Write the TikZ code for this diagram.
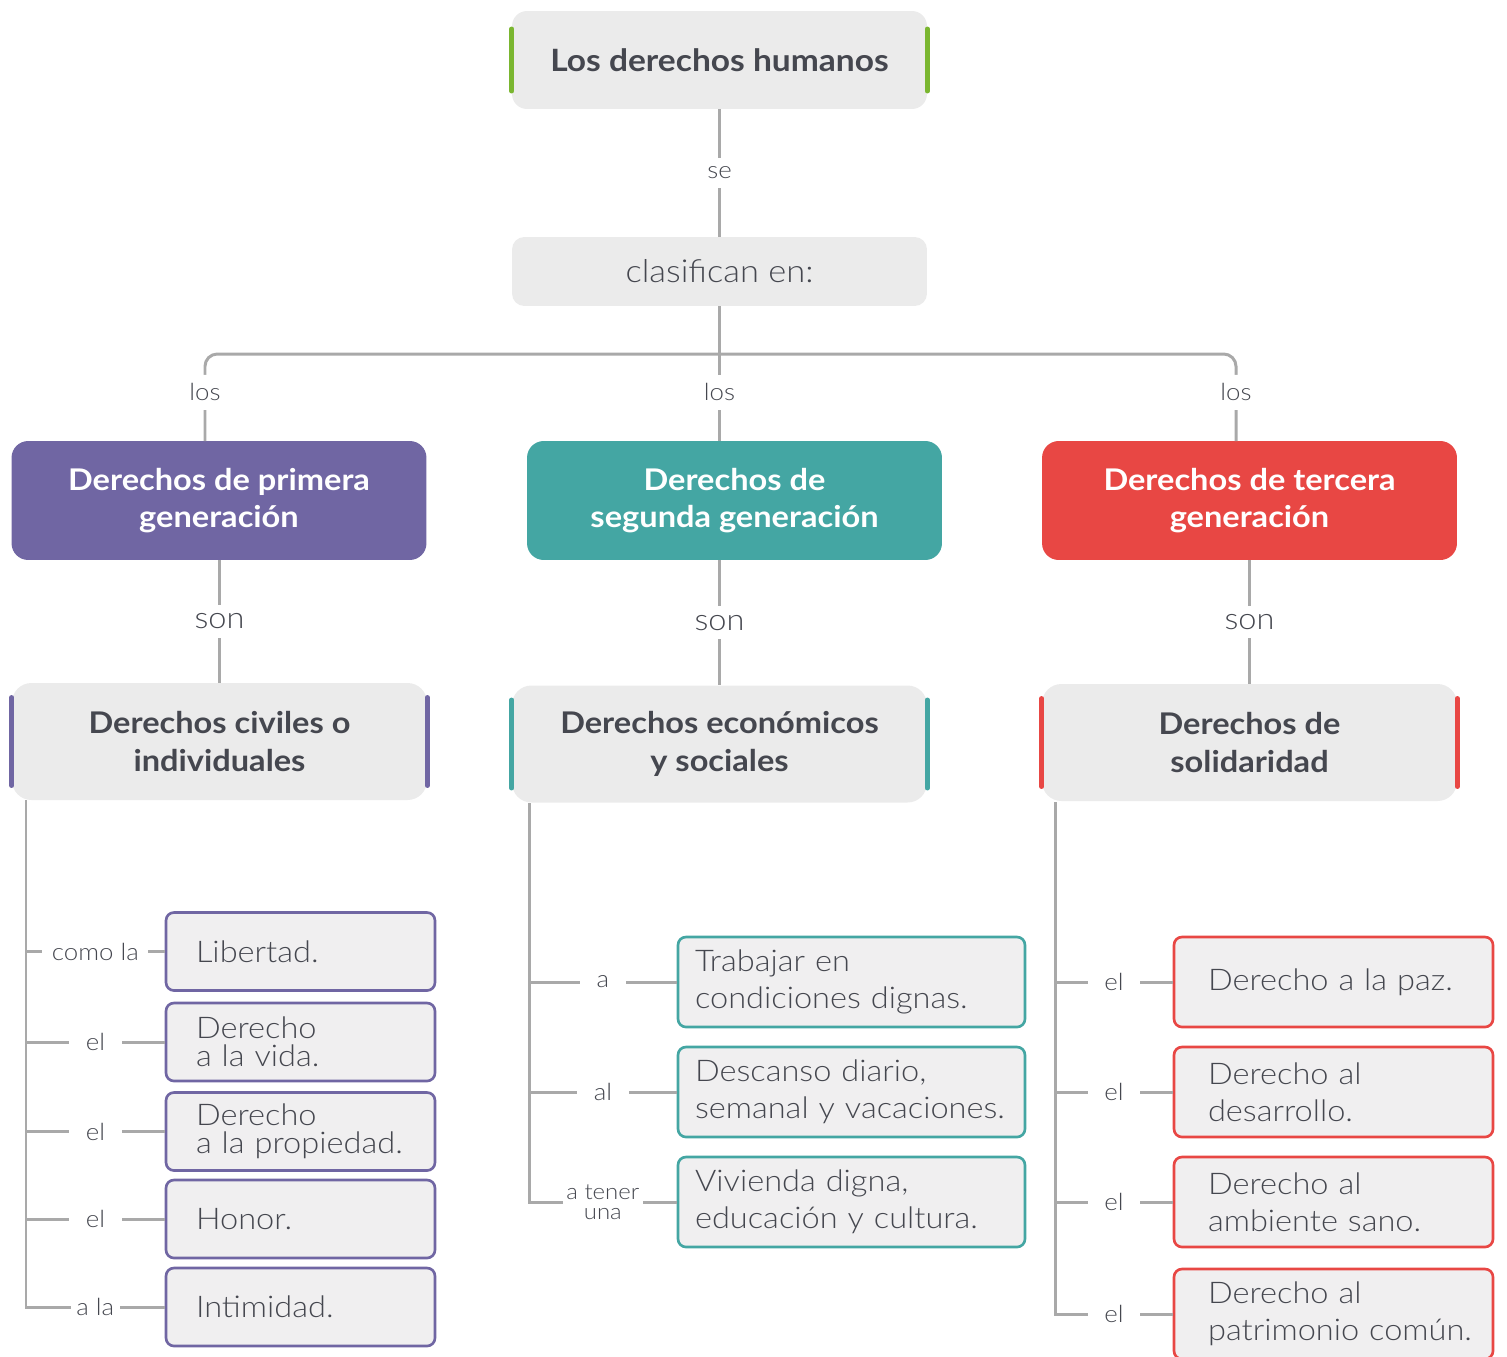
\documentclass[tikz,border=0pt]{standalone}
\usepackage{fontspec}
\setmainfont{Lato}[FakeStretch=1.09]
\newfontfamily\thinfont{Lato Light}[FakeStretch=1.09]
\definecolor{ink}{HTML}{45474F}
\definecolor{boxgray}{HTML}{EBEBEB}
\definecolor{leafgray}{HTML}{F0EFF0}
\definecolor{linegray}{HTML}{A9A9A9}
\definecolor{cpurple}{HTML}{7066A3}
\definecolor{cteal}{HTML}{44A6A3}
\definecolor{cred}{HTML}{E84744}
\definecolor{cgreen}{HTML}{7AB630}

\begin{document}
\begin{tikzpicture}[x=0.02cm, y=-0.02cm,
    line/.style={draw=linegray, line width=1.7pt},
    lbl/.style={fill=white, text=ink, inner xsep=9.5pt, inner ysep=5pt, font=\thinfont\fontsize{13.5}{14}\selectfont},
    sonlbl/.style={lbl, font=\thinfont\fontsize{17}{18}\selectfont},
    head/.style={fill=boxgray, text=ink, rounded corners=8.5pt, minimum width=8.3cm, align=center, inner sep=0pt},
    gen/.style={fill=#1, text=white, rounded corners=9.5pt, minimum width=8.3cm, minimum height=2.38cm, align=center, inner sep=0pt, font=\bfseries\fontsize{17}{21}\selectfont},
    sub/.style={fill=boxgray, text=ink, rounded corners=11pt, minimum width=8.3cm, minimum height=2.34cm, align=center, inner sep=0pt, font=\bfseries\fontsize{17}{21.5}\selectfont},
    bar/.style={draw=#1, line width=2.8pt, line cap=round},
    leaf/.style={draw=#1, fill=leafgray, text=ink, line width=1.5pt, rounded corners=4.5pt, align=left, inner sep=0pt, font=\thinfont\fontsize{17}{21}\selectfont},
    leafp/.style={leaf=cpurple, text width=5.38cm, execute at begin node={\leftskip=0.6cm}, minimum height=1.56cm, font=\thinfont\fontsize{17}{16}\selectfont},
    leaft/.style={leaf=cteal, text width=6.94cm, execute at begin node={\leftskip=0.34cm}, minimum height=1.8cm},
    leafr/.style={leaf=cred, text width=6.38cm, execute at begin node={\leftskip=0.68cm}, minimum height=1.8cm}]
  \useasboundingbox (0,0) rectangle (1507,1356);

  % top of the map
  \node[head, minimum height=1.96cm, font=\bfseries\fontsize{17.5}{21}\selectfont] (top) at (719.5,60) {Los derechos humanos};
  \node[head, minimum height=1.38cm, rounded corners=7pt, font=\thinfont\fontsize{18}{22}\selectfont] (clas) at (719.5,271.5) {clasifican en:};

  % the three generations
  \node[gen=cpurple] (gen1) at (219,500.5) {Derechos de primera\\generación};
  \node[gen=cteal] (gen2) at (734.5,500.5) {Derechos de\\segunda generación};
  \node[gen=cred] (gen3) at (1249.5,500.5) {Derechos de tercera\\generación};

  \node[sub] (sub1) at (219.5,741.5) {Derechos civiles o\\individuales};
  \node[sub] (sub2) at (719.5,744) {Derechos económicos\\y sociales};
  \node[sub] (sub3) at (1249.5,742.5) {Derechos de\\solidaridad};

  \foreach \n/\c/\h in {top/cgreen/31, sub1/cpurple/44, sub2/cteal/44, sub3/cred/44}
    \foreach \a in {west,east}
      \draw[bar=\c] (\n.\a) ++(0,-\h) -- ++(0,{2*\h});

  \coordinate (d1) at (205,441);
  \coordinate (hub) at (719.5,354);
  \coordinate (d3) at (1236,441);
  \coordinate (t1) at (26,800);
  \coordinate (t2) at (529,803);
  \coordinate (t3) at (1055,802);

  % leaves
  \node[leafp] (p1) at (300.5,951.5) {Libertad.};
  \node[leafp] (p2) at (300.5,1042) {Derecho\\a la vida.};
  \node[leafp] (p3) at (300.5,1131.5) {Derecho\\a la propiedad.};
  \node[leafp] (p4) at (300.5,1219) {Honor.};
  \node[leafp] (p5) at (300.5,1307) {Intimidad.};

  \node[leaft] (s1) at (851.5,982) {Trabajar en\\condiciones dignas.};
  \node[leaft] (s2) at (851.5,1092) {Descanso diario,\\semanal y vacaciones.};
  \node[leaft] (s3) at (851.5,1202) {Vivienda digna,\\educación y cultura.};

  \node[leafr] (r1) at (1333.5,982) {Derecho a la paz.};
  \node[leafr] (r2) at (1333.5,1092) {Derecho al\\desarrollo.};
  \node[leafr] (r3) at (1333.5,1202) {Derecho al\\ambiente sano.};
  \node[leafr] (r4) at (1333.5,1314) {Derecho al\\patrimonio común.};

  % connectors
  \draw[line] (top) -- node[lbl]{se} (clas);
  \draw[line, rounded corners=7pt] (d1) |- node[lbl, pos=.28]{los} (hub) -| node[lbl, pos=.72]{los} (d3);
  \draw[line] (clas) -- node[lbl, pos=.64]{los} (gen2.north -| clas);
  \draw[line] (gen1.south -| sub1) -- node[sonlbl]{son} (sub1);
  \draw[line] (gen2.south -| sub2) -- node[sonlbl]{son} (sub2);
  \draw[line] (gen3.south -| sub3) -- node[sonlbl]{son} (sub3);

  \draw[line] (t1) |- node[lbl, pos=.75, inner xsep=3pt]{a la} (p5);
  \draw[line] (p1.west -| t1) -- node[lbl, inner xsep=5.5pt]{como la} (p1);
  \foreach \n in {p2,p3,p4}
    \draw[line] (\n.west -| t1) -- node[lbl]{el} (\n);

  \draw[line] (t2) |- node[lbl, pos=.75, inner xsep=2pt, inner ysep=0pt, align=center, font=\thinfont\fontsize{12.5}{11.5}\selectfont]{a tener\\una} (s3);
  \draw[line] (s1.west -| t2) -- node[lbl]{a} (s1);
  \draw[line] (s2.west -| t2) -- node[lbl]{al} (s2);

  \draw[line] (t3) |- node[lbl, pos=.75]{el} (r4);
  \foreach \n in {r1,r2,r3}
    \draw[line] (\n.west -| t3) -- node[lbl]{el} (\n);
\end{tikzpicture}
\end{document}
